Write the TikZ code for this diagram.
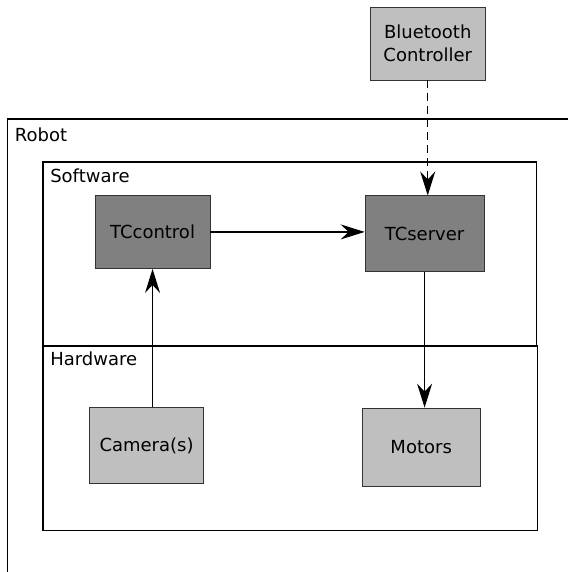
\documentclass[tikz,border=0pt]{standalone}
\usepackage{fontspec}
\setmainfont{DejaVu Sans}
\usetikzlibrary{arrows.meta}
\begin{document}
\begin{tikzpicture}[x=1cm,y=1cm,font=\fontsize{18}{23}\selectfont,
  frame/.style={draw=black,line width=1.2pt},
  label/.style={anchor=base west,inner sep=0pt},
  unit/.style={draw=black!80,line width=0.9pt,align=center,inner sep=0pt},
  hwbox/.style={unit,fill=black!25},
  swbox/.style={unit,fill=black!50},
  link/.style={line width=1.2pt,-{Stealth[length=24pt,width=15pt,inset=8pt]}}]
  \useasboundingbox (0,0) rectangle (19.96,20.10);
  % containers
  \draw[frame] (0.26,0) |- (19.96,15.92);
  \draw[frame] (1.51,7.94) rectangle (18.84,14.41);
  \draw[frame] (1.51,1.47) rectangle (18.88,7.94);
  \node[label] (robot) at (0.52,15.11) {Robot};
  \node[label] (sw) at (1.76,13.70) {Software};
  \node[label] (hw) at (1.76,7.24) {Hardware};
  % blocks
  \node[hwbox,minimum width=4.04cm,minimum height=2.56cm] (bt) at (15.03,18.57) {Bluetooth\\Controller};
  \node[swbox,minimum width=4.04cm,minimum height=2.57cm] (tcc) at (5.36,11.95) {TCcontrol};
  \node[swbox,minimum width=4.18cm,minimum height=2.67cm] (tcs) at (14.92,11.88) {TCserver};
  \node[hwbox,minimum width=3.98cm,minimum height=2.67cm] (cam) at (5.15,4.43) {Camera(s)};
  \node[hwbox,minimum width=4.15cm,minimum height=2.74cm] (mot) at (14.80,4.39) {Motors};
  % links
  \draw[link] (tcc.east) -- (tcc.east -| tcs.west);
  \draw[link] (tcc.south |- cam.north) -- (tcc.south);
  \draw[link] (tcs.south) -- (tcs.south |- mot.north);
  \draw[link,dash pattern=on 8pt off 5pt] (bt.south) -- (bt.south |- tcs.north);
\end{tikzpicture}
\end{document}
